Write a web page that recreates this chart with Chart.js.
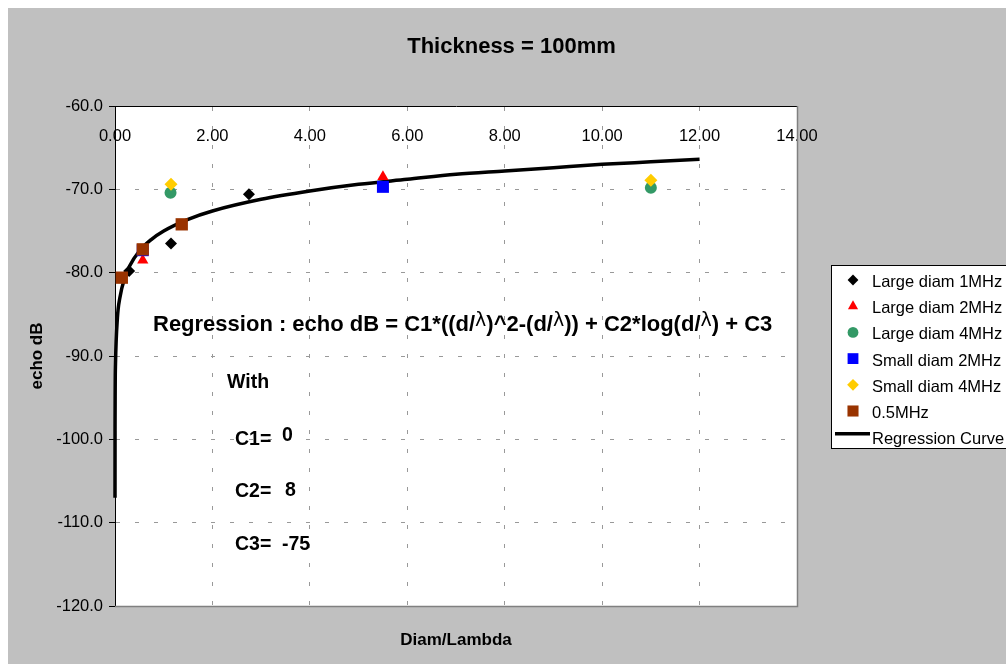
<!DOCTYPE html>
<html>
<head>
<meta charset="utf-8">
<script src="https://cdn.jsdelivr.net/npm/chart.js@4.4.1/dist/chart.umd.min.js"></script>
<style>
  html, body { margin: 0; padding: 0; background: #fff; }
  canvas { display: block; }
</style>
</head>
<body>
<canvas id="chart" width="1006" height="664"></canvas>
<script>
// --- DATA (echo dB vs diam/lambda, thickness 100mm) ---
const chartTitle = 'Thickness = 100mm';

const large1MHzX = [0.29, 1.15, 2.75];
const large1MHzY = [-79.8, -76.5, -70.6];

const large2MHzX = [0.57, 5.5];
const large2MHzY = [-78.5, -68.5];

const large4MHzX = [1.14, 11.0];
const large4MHzY = [-70.4, -69.8];

const small2MHzX = [0.57, 5.5];
const small2MHzY = [-77.3, -69.7];

const small4MHzX = [1.15, 11.0];
const small4MHzY = [-69.4, -68.9];

const half1MHzX = [0.14, 0.57, 1.37];
const half1MHzY = [-80.6, -77.2, -74.2];

// regression curve
const curveX = [0.0001, 0.001, 0.01, 0.05, 0.1, 0.2, 0.3, 0.5, 0.75, 1, 1.5, 2, 3, 4, 5, 6, 7, 8, 9, 10, 11, 12];
const curveY = [-107.0, -99.0, -91.0, -85.4, -83.0, -80.6, -79.2, -77.4, -76.0, -75.0, -73.6, -72.6,
                -71.2, -70.2, -69.4, -68.8, -68.2, -67.8, -67.4, -67.0, -66.7, -66.4];

// --- STYLE ---
const FONT = "'Liberation Sans', Arial, Helvetica, sans-serif";
Chart.defaults.font.family = FONT;
Chart.defaults.color = '#000';

function pts(xs, ys) { return xs.map((x, i) => ({ x: x, y: ys[i] })); }

function markerSet(label, xs, ys, style, color, radius, order) {
  return {
    label: label,
    data: pts(xs, ys),
    showLine: false,
    pointStyle: style,
    pointRadius: radius,
    pointHoverRadius: radius,
    pointBackgroundColor: color,
    pointBorderColor: color,
    pointBorderWidth: 0,
    order: order,
    xAxisID: 'x', yAxisID: 'y'
  };
}

const datasets = [
  markerSet('Large diam 1MHz', large1MHzX, large1MHzY, 'rectRot', '#000000', 6, 6),
  markerSet('Large diam 2MHz', large2MHzX, large2MHzY, 'triangle', '#ff0000', 6.5, 5),
  markerSet('Large diam 4MHz', large4MHzX, large4MHzY, 'circle', '#339966', 6, 4),
  markerSet('Small diam 2MHz', small2MHzX, small2MHzY, 'rect', '#0000ff', 8.5, 3),
  markerSet('Small diam 4MHz', small4MHzX, small4MHzY, 'rectRot', '#ffcc00', 6.5, 2),
  markerSet('0.5MHz', half1MHzX, half1MHzY, 'rect', '#993300', 8.7, 1),
  {
    label: 'Regression Curve',
    data: pts(curveX, curveY),
    showLine: true,
    borderColor: '#000',
    borderWidth: 3.5,
    pointRadius: 0,
    cubicInterpolationMode: 'monotone',
    clip: false,
    order: 7,
    xAxisID: 'x', yAxisID: 'y'
  }
];

// --- PLUGINS ---
// gray frame + white plot area + gray right/bottom plot border
const framePlugin = {
  id: 'frame',
  beforeDraw(chart) {
    const { ctx, chartArea: a } = chart;
    ctx.save();
    ctx.fillStyle = '#c0c0c0';
    ctx.fillRect(8, 8, chart.width - 8, chart.height - 8);
    ctx.fillStyle = '#fff';
    ctx.fillRect(a.left, a.top, a.right - a.left, a.bottom - a.top);
    ctx.restore();
  },
  beforeDatasetsDraw(chart) {
    const { ctx, chartArea: a } = chart;
    ctx.save();
    ctx.strokeStyle = '#808080';
    ctx.lineWidth = 1.5;
    ctx.beginPath();
    ctx.moveTo(a.right + 0.5, a.top);
    ctx.lineTo(a.right + 0.5, a.bottom + 0.5);
    ctx.lineTo(a.left, a.bottom + 0.5);
    ctx.stroke();
    ctx.restore();
  }
};

// boxed legend on the right
const boxLegend = {
  id: 'boxLegend',
  afterDraw(chart) {
    const ctx = chart.ctx;
    const left = 831, top = 265, rowH = 26.2;
    ctx.save();
    ctx.fillStyle = '#fff';
    ctx.fillRect(left, top, 200, 183);
    ctx.strokeStyle = '#000';
    ctx.lineWidth = 1;
    ctx.strokeRect(left + 0.5, top + 0.5, 200, 183);
    ctx.font = '16.5px ' + FONT;
    ctx.textBaseline = 'middle';
    ctx.textAlign = 'left';
    chart.data.datasets.forEach((ds, i) => {
      const cy = top + 16.5 + i * rowH;
      if (ds.showLine) {
        ctx.strokeStyle = ds.borderColor;
        ctx.lineWidth = 3.5;
        ctx.beginPath();
        ctx.moveTo(left + 4, cy - 5);
        ctx.lineTo(left + 39, cy - 5);
        ctx.stroke();
      } else {
        ctx.fillStyle = ds.pointBackgroundColor;
        Chart.helpers.drawPoint(ctx, { pointStyle: ds.pointStyle, radius: ds.pointRadius * 0.9, rotation: 0, borderWidth: 0 }, left + 22, cy - 1.5);
      }
      ctx.fillStyle = '#000';
      ctx.fillText(ds.label, left + 41, cy + 1);
    });
    ctx.restore();
  }
};

// regression formula and coefficients written in the plot
const LAMBDA = '\u03bb';
const formulaParts = [
  ['Regression : echo dB = C1*((d/', false],
  [LAMBDA, true],
  [')^2-(d/', false],
  [LAMBDA, true],
  [')) + C2*log(d/', false],
  [LAMBDA, true],
  [') + C3', false]
];
const notes = [
  { text: 'With', x: 227, y: 383 },
  { text: 'C1=', x: 235, y: 440 },
  { text: '0', x: 282, y: 436 },
  { text: 'C2=', x: 235, y: 492 },
  { text: '8', x: 285, y: 491 },
  { text: 'C3=', x: 235, y: 545 },
  { text: '-75', x: 282, y: 545 }
];

const textPlugin = {
  id: 'notes',
  afterDatasetsDraw(chart) {
    const ctx = chart.ctx;
    ctx.save();
    ctx.fillStyle = '#000';
    ctx.textAlign = 'left';
    ctx.textBaseline = 'middle';
    let x = 153;
    const y = 325;
    formulaParts.forEach(([t, greek]) => {
      ctx.font = greek ? '19px "DejaVu Sans"' : 'bold 22px ' + FONT;
      ctx.fillText(t, x, greek ? y - 4 : y);
      x += ctx.measureText(t).width;
    });
    ctx.font = 'bold 19.5px ' + FONT;
    notes.forEach(n => ctx.fillText(n.text, n.x, n.y));
    ctx.restore();
  }
};

// --- CHART ---
const ctx = document.getElementById('chart').getContext('2d');
const chart = new Chart(ctx, {
  type: 'scatter',
  data: { datasets: datasets },
  options: {
    responsive: false,
    animation: false,
    layout: { padding: { left: 17, top: 0, right: 0, bottom: 0 } },
    plugins: {
      legend: { display: false },
      tooltip: { enabled: false },
      title: {
        display: true,
        text: chartTitle,
        color: '#000',
        font: { size: 22, weight: 'bold' },
        padding: { top: 34, bottom: 0 }
      }
    },
    scales: {
      x: {
        type: 'linear', position: 'top', min: 0, max: 14,
        afterFit: s => { s.height = 45.6; },
        ticks: {
          stepSize: 2, autoSkip: false, maxRotation: 0, mirror: true, padding: 21,
          color: '#000', font: { size: 16.5 },
          callback: v => v.toFixed(2)
        },
        grid: { color: '#999', drawTicks: false },
        border: { display: true, color: '#000', width: 1, dash: [4, 15] }
      },
      x2: {
        type: 'linear', position: 'bottom', min: 0, max: 14,
        afterFit: s => { s.height = 58; },
        ticks: { display: false },
        grid: { display: false },
        border: { display: false },
        title: {
          display: true, text: 'Diam/Lambda', color: '#000',
          font: { size: 17, weight: 'bold' },
          padding: { top: 0, bottom: 13 }
        }
      },
      y: {
        type: 'linear', position: 'left', min: -120, max: -60,
        afterFit: s => { s.width = 98; },
        ticks: {
          stepSize: 10, padding: 6, color: '#000', font: { size: 16.5 },
          callback: v => v.toFixed(1)
        },
        grid: { color: '#999', tickColor: '#000', tickLength: 6, tickBorderDash: [] },
        border: { display: true, color: '#000', width: 1, dash: [4, 15] },
        title: {
          display: true, text: 'echo dB', color: '#000',
          font: { size: 17, weight: 'bold' },
          padding: { top: 10, bottom: 0 }
        }
      },
      y2: {
        type: 'linear', position: 'right', min: 0, max: 1,
        afterFit: s => { s.width = 209; },
        ticks: { display: false },
        grid: { display: false },
        border: { display: false }
      }
    }
  },
  plugins: [framePlugin, boxLegend, textPlugin]
});
</script>
</body>
</html>
